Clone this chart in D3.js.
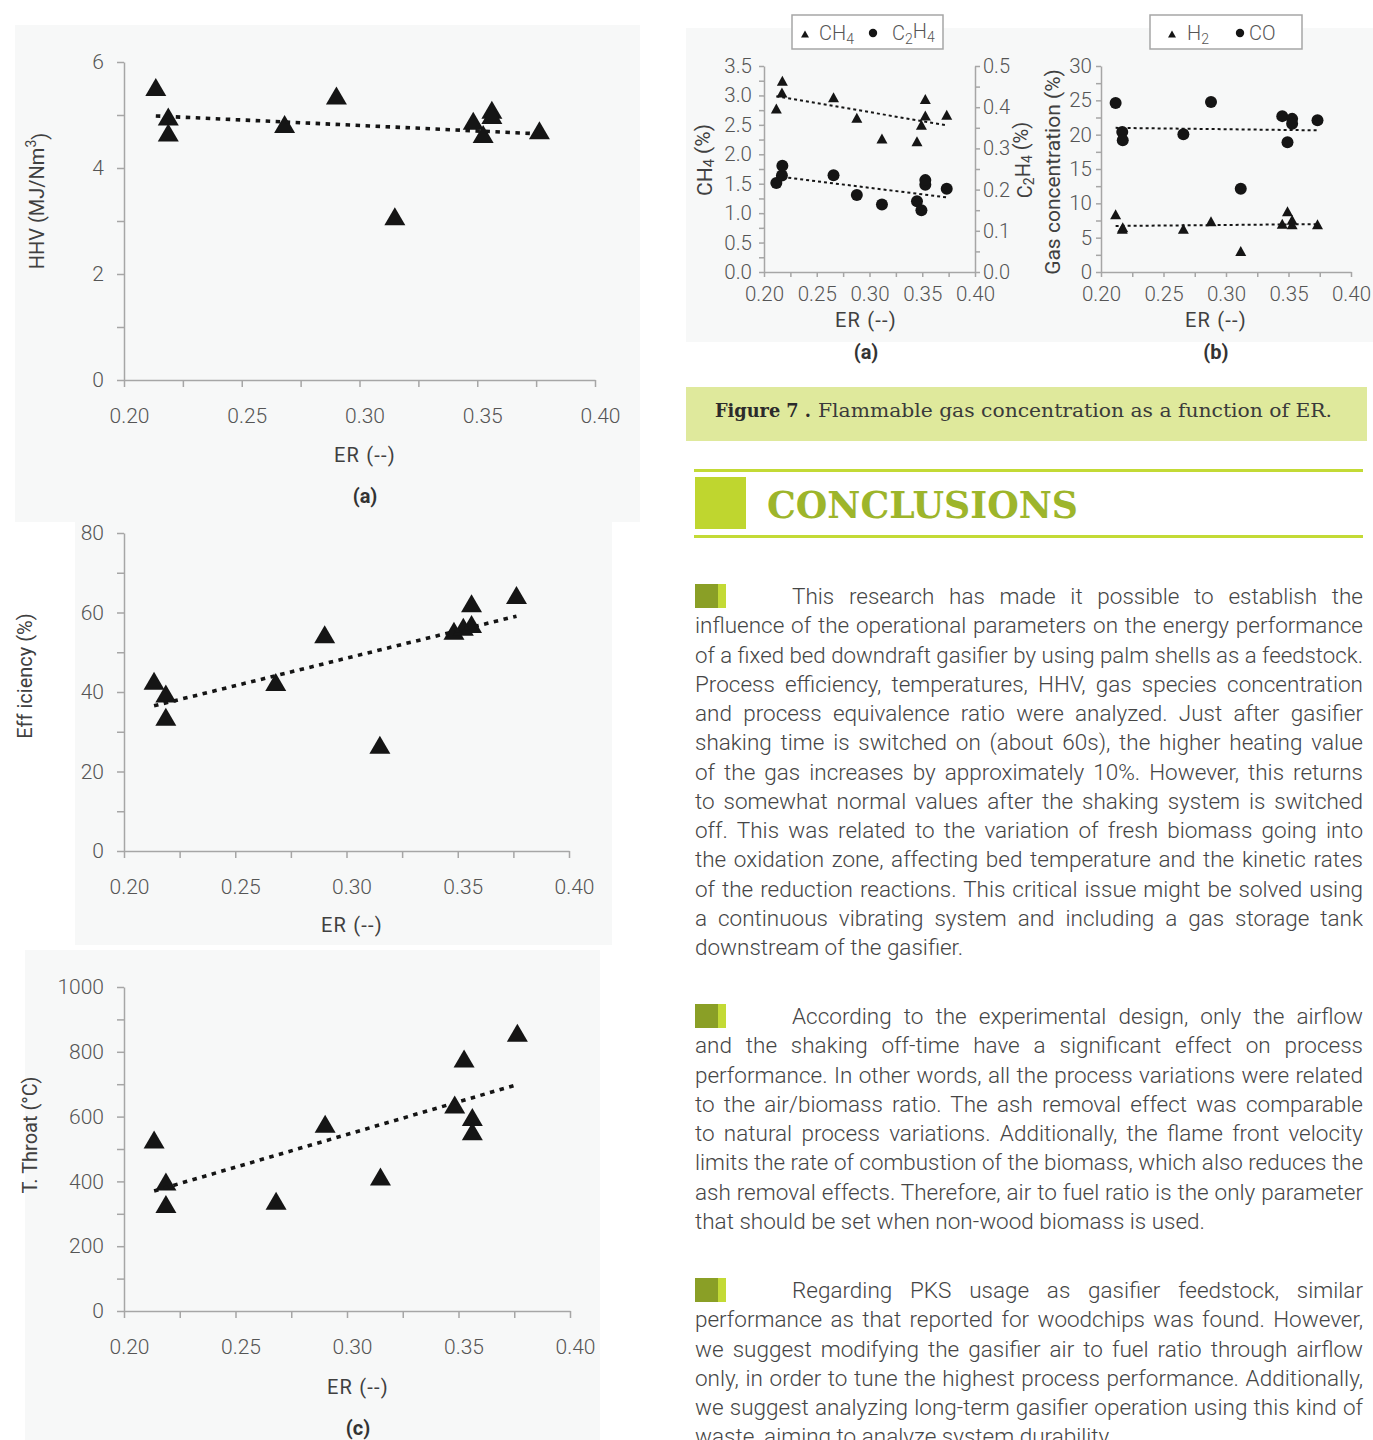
<!DOCTYPE html>
<html>
<head>
<meta charset="utf-8">
<script src="https://cdn.jsdelivr.net/npm/d3@7"></script>
<style>
  html, body { margin: 0; padding: 0; background: #fff; overflow: hidden; }
  svg { display: block; }
</style>
</head>
<body>
<svg id="page" width="1373" height="1440"></svg>
<script>
// ---- values ----
const erRuns = [0.2135, 0.2188, 0.2188, 0.2682, 0.2902, 0.315, 0.3483, 0.3525, 0.3562, 0.3562, 0.3764];
const hhv = [5.53, 4.97, 4.67, 4.83, 5.37, 3.09, 4.89, 4.64, 5.1, 5.0, 4.71];
const efficiency = [42.8, 39.6, 33.8, 42.5, 54.5, 26.7, 55.4, 56.4, 57.1, 62.3, 64.4];
const tThroat = [529, 400, 330, 340, 578, 415, 637, 779, 599, 555, 859];

const erGas = [0.2117, 0.217, 0.2174, 0.2659, 0.288, 0.3118, 0.345, 0.3492, 0.3529, 0.3529, 0.3732];
const ch4 = [2.78, 3.05, 3.25, 2.97, 2.62, 2.27, 2.22, 2.5, 2.66, 2.94, 2.67];
const c2h4 = [0.216, 0.234, 0.258, 0.235, 0.187, 0.164, 0.172, 0.15, 0.212, 0.223, 0.202];
const h2 = [8.4, 6.3, 6.5, 6.3, 7.4, 3.06, 7.04, 8.83, 7.6, 6.94, 6.94];
const co = [24.6, 20.4, 19.2, 20.05, 24.76, 12.14, 22.7, 18.9, 22.3, 21.6, 22.1];

// ---- tick marks and their labels ----
const erTicks = [0.2, 0.225, 0.25, 0.275, 0.3, 0.325, 0.35, 0.375, 0.4];
const erLabels = ["0.20", "", "0.25", "", "0.30", "", "0.35", "", "0.40"];
const hhvTicks = [0, 1, 2, 3, 4, 5, 6];
const hhvLabels = ["0", "", "2", "", "4", "", "6"];
const effTicks = [0, 10, 20, 30, 40, 50, 60, 70, 80];
const effLabels = ["0", "", "20", "", "40", "", "60", "", "80"];
const tTicks = [0, 100, 200, 300, 400, 500, 600, 700, 800, 900, 1000];
const tLabels = ["0", "", "200", "", "400", "", "600", "", "800", "", "1000"];
const ch4Ticks = [0, 0.25, 0.5, 0.75, 1, 1.25, 1.5, 1.75, 2, 2.25, 2.5, 2.75, 3, 3.25, 3.5];
const ch4Labels = ["0.0", "", "0.5", "", "1.0", "", "1.5", "", "2.0", "", "2.5", "", "3.0", "", "3.5"];
const c2h4Ticks = [0, 0.05, 0.1, 0.15, 0.2, 0.25, 0.3, 0.35, 0.4, 0.45, 0.5];
const c2h4Labels = ["0.0", "", "0.1", "", "0.2", "", "0.3", "", "0.4", "", "0.5"];
const gasTicks = [0, 2.5, 5, 7.5, 10, 12.5, 15, 17.5, 20, 22.5, 25, 27.5, 30];
const gasLabels = ["0", "", "5", "", "10", "", "15", "", "20", "", "25", "", "30"];

// ---- page text ----
const captionLabel = "Figure 7 .";
const captionText = "Flammable gas concentration as a function of ER.";
const heading = "CONCLUSIONS";
const para1 = [
  "This research has made it possible to establish the",
  "influence of the operational parameters on the energy performance",
  "of a fixed bed downdraft gasifier by using palm shells as a feedstock.",
  "Process efficiency, temperatures, HHV, gas species concentration",
  "and process equivalence ratio were analyzed. Just after gasifier",
  "shaking time is switched on (about 60s), the higher heating value",
  "of the gas increases by approximately 10%. However, this returns",
  "to somewhat normal values after the shaking system is switched",
  "off. This was related to the variation of fresh biomass going into",
  "the oxidation zone, affecting bed temperature and the kinetic rates",
  "of the reduction reactions. This critical issue might be solved using",
  "a continuous vibrating system and including a gas storage tank",
  "downstream of the gasifier.",
];
const para2 = [
  "According to the experimental design, only the airflow",
  "and the shaking off-time have a significant effect on process",
  "performance. In other words, all the process variations were related",
  "to the air/biomass ratio. The ash removal effect was comparable",
  "to natural process variations. Additionally, the flame front velocity",
  "limits the rate of combustion of the biomass, which also reduces the",
  "ash removal effects. Therefore, air to fuel ratio is the only parameter",
  "that should be set when non-wood biomass is used.",
];
const para3 = [
  "Regarding PKS usage as gasifier feedstock, similar",
  "performance as that reported for woodchips was found. However,",
  "we suggest modifying the gasifier air to fuel ratio through airflow",
  "only, in order to tune the highest process performance. Additionally,",
  "we suggest analyzing long-term gasifier operation using this kind of",
  "waste, aiming to analyze system durability.",
];

const svg = d3.select("#page");
const SANS = "Roboto, 'Open Sans', 'DejaVu Sans', sans-serif";
const SLAB = "'DejaVu Serif Condensed', 'DejaVu Serif', serif";
const PANEL = "#f7f8f8";
const AXIS = "#a6a6a6";
const LABEL = "#555";
const INK = "#151515";

// least squares line over the data range (the Excel linear trendline)
function linFit(xs, ys) {
  const mx = d3.mean(xs), my = d3.mean(ys);
  const sxy = d3.sum(xs, (x, i) => (x - mx) * (ys[i] - my));
  const sxx = d3.sum(xs, (x) => (x - mx) ** 2);
  const b = sxy / sxx;
  const [x0, x1] = d3.extent(xs);
  return [[x0, my + b * (x0 - mx)], [x1, my + b * (x1 - mx)]];
}

const tri = (w, h) => `M0,${-h / 2}L${w / 2},${h / 2}L${-w / 2},${h / 2}Z`;

function styleAxis(g, size) {
  g.attr("color", AXIS).attr("font-family", SANS).attr("font-size", size);
  g.select(".domain").attr("stroke-width", 1.5);
  g.selectAll(".tick line").attr("stroke-width", 1.5);
  g.selectAll(".tick text").attr("fill", LABEL).attr("font-weight", 300);
}

// parts: [text, "sub" | "sup" | undefined]
function rich(t, parts) {
  let shift = 0;
  parts.forEach(([s, kind]) => {
    const target = kind === "sub" ? 0.3 : kind === "sup" ? -0.45 : 0;
    t.append("tspan")
      .attr("dy", `${target - shift}em`)
      .attr("font-size", kind ? "70%" : null)
      .text(s);
    shift = target;
  });
  return t;
}

function label(x, y, parts, opts = {}) {
  const t = svg.append("text")
    .attr("font-family", SANS)
    .attr("font-size", opts.size || 20)
    .attr("font-weight", opts.weight || 400)
    .attr("fill", opts.fill || "#404040")
    .attr("letter-spacing", opts.spacing || null)
    .attr("text-anchor", opts.anchor || "middle");
  if (opts.rotate) {
    t.attr("transform", `translate(${x},${y}) rotate(-90)`).attr("dominant-baseline", "central");
  } else {
    t.attr("x", x).attr("y", y);
  }
  return rich(t, typeof parts === "string" ? [[parts]] : parts);
}

function fitWidth(t, w) {
  const L = t.node().getComputedTextLength();
  if (Math.abs(L - w) > 2) t.attr("textLength", w).attr("lengthAdjust", "spacingAndGlyphs");
}

function trend(x, y, xs, ys, width, dash) {
  svg.append("path")
    .attr("d", d3.line().x((d) => x(d[0])).y((d) => y(d[1]))(linFit(xs, ys)))
    .attr("fill", "none")
    .attr("stroke", INK)
    .attr("stroke-width", width)
    .attr("stroke-dasharray", dash);
}

// ---- left column: HHV, efficiency, throat temperature ----
function leftChart(c) {
  svg.append("rect")
    .attr("x", c.panel[0]).attr("y", c.panel[1])
    .attr("width", c.panel[2]).attr("height", c.panel[3])
    .attr("fill", PANEL);

  const x = d3.scaleLinear().domain([0.2, 0.4]).range(c.xr);
  const y = d3.scaleLinear().domain(c.yDomain).range(c.yr);

  const ax = svg.append("g")
    .attr("transform", `translate(0,${c.yr[0]})`)
    .call(d3.axisBottom(x).tickValues(erTicks).tickFormat((d, i) => erLabels[i])
      .tickSize(7).tickSizeOuter(0).tickPadding(21));
  styleAxis(ax, 21);
  ax.selectAll(".tick text").attr("dx", 5);

  const ay = svg.append("g")
    .attr("transform", `translate(${c.xr[0]},0)`)
    .call(d3.axisLeft(y).tickValues(c.ticks).tickFormat((d, i) => c.labels[i])
      .tickSize(7).tickSizeOuter(0).tickPadding(13));
  styleAxis(ay, 21);

  svg.append("g")
    .selectAll("path")
    .data(d3.zip(erRuns, c.values))
    .join("path")
    .attr("transform", (d) => `translate(${x(d[0])},${y(d[1])})`)
    .attr("d", tri(21, 18))
    .attr("fill", INK);

  trend(x, y, erRuns, c.values, 3.6, "4.5,5.5");

  label(c.titleX, c.titleY, c.title, { rotate: true, size: 20 });
  label(c.midX, c.erY, "ER (--)", { size: 20, spacing: 1.2 });
  label(c.midX, c.tagY, c.tag, { size: 20, weight: 700, fill: "#333" });
}

leftChart({
  panel: [15, 25, 625, 497], xr: [124, 595], yr: [380, 62], yDomain: [0, 6],
  ticks: hhvTicks, labels: hhvLabels, values: hhv,
  title: [["HHV (MJ/Nm"], ["3", "sup"], [")"]], titleX: 37, titleY: 201,
  midX: 365, erY: 462, tag: "(a)", tagY: 503,
});
leftChart({
  panel: [75, 522, 537, 423], xr: [124, 569], yr: [851, 533], yDomain: [0, 80],
  ticks: effTicks, labels: effLabels, values: efficiency,
  title: "Eff iciency (%)", titleX: 25, titleY: 676,
  midX: 352, erY: 932, tag: "(b)", tagY: 973,
});
leftChart({
  panel: [25, 950, 575, 490], xr: [124, 570], yr: [1311, 987], yDomain: [0, 1000],
  ticks: tTicks, labels: tLabels, values: tThroat,
  title: "T. Throat (°C)", titleX: 30, titleY: 1135,
  midX: 358, erY: 1394, tag: "(c)", tagY: 1435,
});

// ---- right column: gas concentration panels ----
svg.append("rect").attr("x", 686).attr("y", 28).attr("width", 687).attr("height", 314).attr("fill", PANEL);

function gasAxes(xr, yLeft, leftTicks, leftLabels, pad) {
  const x = d3.scaleLinear().domain([0.2, 0.4]).range(xr);
  const ax = svg.append("g")
    .attr("transform", `translate(0,${yLeft.range()[0]})`)
    .call(d3.axisBottom(x).tickValues(erTicks).tickFormat((d, i) => erLabels[i])
      .tickSize(5).tickSizeOuter(0).tickPadding(9));
  styleAxis(ax, 20.5);
  const ay = svg.append("g")
    .attr("transform", `translate(${xr[0]},0)`)
    .call(d3.axisLeft(yLeft).tickValues(leftTicks).tickFormat((d, i) => leftLabels[i])
      .tickSize(5).tickSizeOuter(0).tickPadding(pad));
  styleAxis(ay, 20.5);
  return x;
}

function triangles(x, y, xs, ys) {
  svg.append("g").selectAll("path")
    .data(d3.zip(xs, ys))
    .join("path")
    .attr("transform", (d) => `translate(${x(d[0])},${y(d[1])})`)
    .attr("d", tri(11, 10))
    .attr("fill", INK);
}

function dots(x, y, xs, ys) {
  svg.append("g").selectAll("circle")
    .data(d3.zip(xs, ys))
    .join("circle")
    .attr("cx", (d) => x(d[0]))
    .attr("cy", (d) => y(d[1]))
    .attr("r", 6)
    .attr("fill", INK);
}

function legendBox(x0, w, items) {
  svg.append("rect").attr("x", x0).attr("y", 15).attr("width", w).attr("height", 34)
    .attr("fill", "#fff").attr("stroke", AXIS).attr("stroke-width", 1.5);
  items.forEach((it) => {
    if (it.shape === "tri") {
      svg.append("path").attr("transform", `translate(${it.mx},34)`).attr("d", tri(8, 7)).attr("fill", INK);
    } else {
      svg.append("circle").attr("cx", it.mx).attr("cy", 33).attr("r", 4.2).attr("fill", INK);
    }
    label(it.tx, 40, it.text, { size: 20, anchor: "start", fill: LABEL, weight: 300 });
  });
}

// (a) CH4 and C2H4
const yCh4 = d3.scaleLinear().domain([0, 3.5]).range([272, 66]);
const yC2h4 = d3.scaleLinear().domain([0, 0.5]).range([272, 66]);
const xA = gasAxes([764, 975], yCh4, ch4Ticks, ch4Labels, 7);
const ayR = svg.append("g")
  .attr("transform", "translate(975,0)")
  .call(d3.axisRight(yC2h4).tickValues(c2h4Ticks).tickFormat((d, i) => c2h4Labels[i])
    .tickSize(5).tickSizeOuter(0).tickPadding(3));
styleAxis(ayR, 20);
triangles(xA, yCh4, erGas, ch4);
dots(xA, yC2h4, erGas, c2h4);
trend(xA, yCh4, erGas, ch4, 2, "3,3");
trend(xA, yC2h4, erGas, c2h4, 2, "3,3");
label(705, 160, [["CH"], ["4", "sub"], [" (%)"]], { rotate: true, size: 21 });
label(1025, 160, [["C"], ["2", "sub"], ["H"], ["4", "sub"], [" (%)"]], { rotate: true, size: 20 });
label(866, 327, "ER (--)", { size: 20, spacing: 1.2 });
label(866, 359, "(a)", { size: 20, weight: 700, fill: "#333" });
legendBox(792, 151, [
  { shape: "tri", mx: 805, tx: 819, text: [["CH"], ["4", "sub"]] },
  { shape: "dot", mx: 873, tx: 892, text: [["C"], ["2", "sub"], ["H"], ["4", "sub"]] },
]);

// (b) H2 and CO
const yGas = d3.scaleLinear().domain([0, 30]).range([272, 66]);
const xB = gasAxes([1101, 1351], yGas, gasTicks, gasLabels, 4);
triangles(xB, yGas, erGas, h2);
dots(xB, yGas, erGas, co);
trend(xB, yGas, erGas, h2, 2, "3,3");
trend(xB, yGas, erGas, co, 2, "3,3");
label(1053, 172, "Gas concentration (%)", { rotate: true, size: 21 });
label(1216, 327, "ER (--)", { size: 20, spacing: 1.2 });
label(1216, 359, "(b)", { size: 20, weight: 700, fill: "#333" });
legendBox(1150, 152, [
  { shape: "tri", mx: 1172, tx: 1187, text: [["H"], ["2", "sub"]] },
  { shape: "dot", mx: 1240, tx: 1249, text: "CO" },
]);

// ---- caption ----
svg.append("rect").attr("x", 686).attr("y", 387).attr("width", 681).attr("height", 54).attr("fill", "#dfe99c");
const capB = svg.append("text").attr("x", 715).attr("y", 417)
  .attr("font-family", SLAB).attr("font-weight", 700).attr("font-size", 18).attr("fill", "#2b2b2b")
  .text(captionLabel);
fitWidth(capB, 96);
const capT = svg.append("text").attr("x", 818).attr("y", 417)
  .attr("font-family", SLAB).attr("font-size", 18).attr("fill", "#3a3a3a")
  .text(captionText);
fitWidth(capT, 514);

// ---- heading ----
svg.append("rect").attr("x", 694).attr("y", 469).attr("width", 669).attr("height", 3).attr("fill", "#c3da35");
svg.append("rect").attr("x", 694).attr("y", 535).attr("width", 669).attr("height", 3).attr("fill", "#c3da35");
svg.append("rect").attr("x", 695).attr("y", 477).attr("width", 51).attr("height", 52).attr("fill", "#bfd62f");
const head = svg.append("text").attr("x", 767).attr("y", 518)
  .attr("font-family", SLAB).attr("font-weight", 700).attr("font-size", 37).attr("fill", "#9db52b")
  .text(heading);
fitWidth(head, 311);

// ---- justified paragraphs ----
const LEFT = 695, RIGHT = 1363, LH = 29.25;
function paragraph(lines, baseline) {
  svg.append("rect").attr("x", 695).attr("y", baseline - 20).attr("width", 23).attr("height", 24).attr("fill", "#8a9f26");
  svg.append("rect").attr("x", 718).attr("y", baseline - 20).attr("width", 8).attr("height", 24).attr("fill", "#c3da35");
  lines.forEach((ln, i) => {
    const xs = i === 0 ? 792 : LEFT;
    const t = svg.append("text")
      .attr("x", xs).attr("y", baseline + i * LH)
      .attr("font-family", SANS).attr("font-weight", 300).attr("font-size", 22.5)
      .attr("fill", "#454545")
      .text(ln);
    const L = t.node().getComputedTextLength();
    const T = RIGHT - xs;
    const last = i === lines.length - 1;
    if (L > T) {
      t.attr("textLength", T).attr("lengthAdjust", "spacingAndGlyphs");
    } else if (!last) {
      const gaps = (ln.match(/ /g) || []).length;
      if (gaps) t.attr("word-spacing", (T - L) / gaps);
    }
  });
}
paragraph(para1, 604);
paragraph(para2, 1024);
paragraph(para3, 1298);
</script>
</body>
</html>
